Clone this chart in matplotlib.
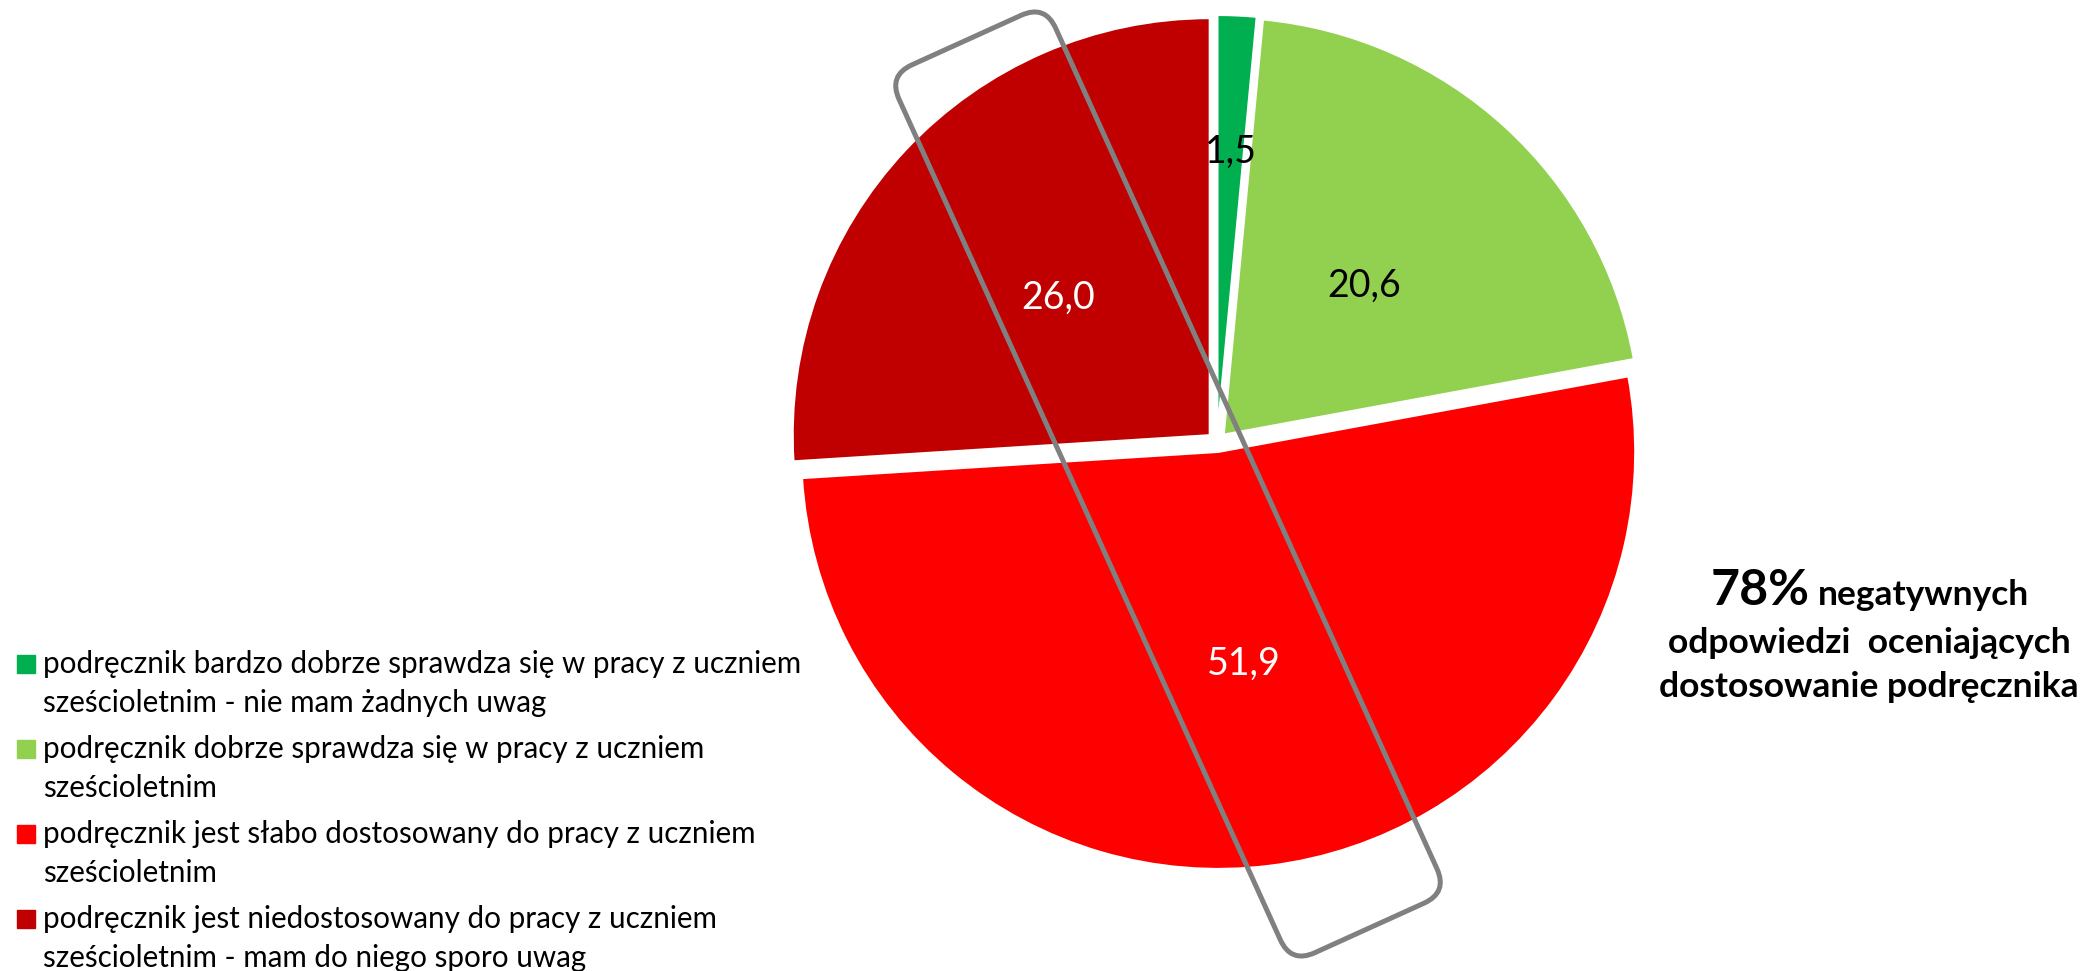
import numpy as np
import matplotlib
matplotlib.use("Agg")
from matplotlib import pyplot as plt
from matplotlib.patches import FancyBboxPatch, Rectangle
from matplotlib.transforms import Affine2D

# data
values = [1.5, 20.6, 51.9, 26.0]
labels = [
    ["podręcznik bardzo dobrze sprawdza się w pracy z uczniem", "sześcioletnim - nie mam żadnych uwag"],
    ["podręcznik dobrze sprawdza się w pracy z uczniem", "sześcioletnim"],
    ["podręcznik jest słabo dostosowany do pracy z uczniem", "sześcioletnim"],
    ["podręcznik jest niedostosowany do pracy z uczniem", "sześcioletnim - mam do niego sporo uwag"],
]
colors = ["#00B050", "#92D050", "#FF0000", "#C00000"]
pct_colors = ["black", "black", "white", "white"]

plt.rcParams['font.family'] = ['Lato', 'DejaVu Sans']

W, H = 2083, 971
fig = plt.figure(figsize=(W / 100, H / 100), dpi=100)
ax = fig.add_axes([0, 0, 1, 1])

cx, cy, r, expl = 1217, H - 442, 417, 10
wedges, texts, autotexts = ax.pie(
    values, colors=colors, startangle=90, counterclock=False,
    center=(cx, cy), radius=r, explode=[expl] * 4,
    autopct=lambda p: f"{p:.1f}".replace('.', ','), pctdistance=0.5,
    wedgeprops=dict(edgecolor="white", linewidth=1.5),
    textprops=dict(fontsize=27))
for t, c in zip(autotexts, pct_colors):
    t.set_color(c)

# small slice label sits further out
w0 = wedges[0]
ang = np.deg2rad((w0.theta1 + w0.theta2) / 2)
d = r * 0.685 + expl
autotexts[0].set_position((cx + d * np.cos(ang), cy + d * np.sin(ang)))
# nudge labels down a little (Excel centres them lower)
for t in autotexts:
    x, y = t.get_position()
    t.set_position((x, y - 5))

ax.set_xlim(0, W)
ax.set_ylim(0, H)
ax.set_aspect('equal')
ax.axis('off')

# rounded frame around the negative answers
bx, by, bl, bw, rot = 1168, H - 484, 975, 172, -65.6
box = FancyBboxPatch((bx - bl / 2, by - bw / 2), bl, bw,
                     boxstyle="round,pad=0,rounding_size=26",
                     fill=False, edgecolor="#808080", linewidth=3.6)
box.set_transform(Affine2D().rotate_deg_around(bx, by, rot) + ax.transData)
ax.add_patch(box)

# legend (manual, square next to first line)
for i, (lines, col) in enumerate(zip(labels, colors)):
    base = 673 + i * 85
    ax.add_patch(Rectangle((17, H - base), 18, 18, color=col))
    for k, line in enumerate(lines):
        ax.text(43, H - base - k * 39, line, fontsize=21.3, ha='left', va='baseline')

# annotation
ax.text(1810, H - 605, "78%", fontsize=36, fontweight='bold', ha='right', va='baseline')
ax.text(1818, H - 605, "negatywnych", fontsize=25.5, fontweight='bold', ha='left', va='baseline')
ax.text(1869, H - 653, "odpowiedzi  oceniających", fontsize=25.5, fontweight='bold', ha='center', va='baseline')
ax.text(1869, H - 697, "dostosowanie podręcznika", fontsize=25.5, fontweight='bold', ha='center', va='baseline')

fig.savefig("out.png", dpi=100)
